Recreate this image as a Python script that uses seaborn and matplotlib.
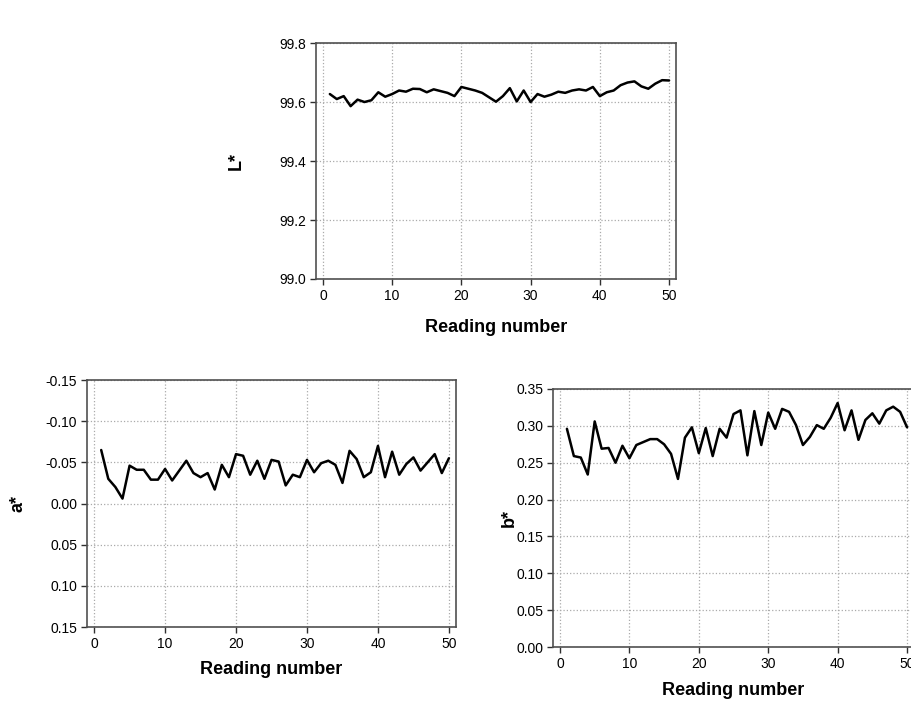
import matplotlib
matplotlib.use("Agg")
import matplotlib.pyplot as plt
from matplotlib.ticker import FormatStrFormatter, MultipleLocator
import seaborn as sns
import pandas as pd

reading = list(range(1, 51))

L_star = [99.627, 99.610, 99.620, 99.586, 99.608, 99.600, 99.606, 99.633, 99.618, 99.627,
          99.639, 99.635, 99.645, 99.644, 99.633, 99.643, 99.637, 99.631, 99.620, 99.651,
          99.645, 99.639, 99.631, 99.616, 99.601, 99.620, 99.647, 99.602, 99.639, 99.600,
          99.627, 99.618, 99.625, 99.635, 99.631, 99.639, 99.643, 99.639, 99.651, 99.620,
          99.633, 99.639, 99.657, 99.666, 99.670, 99.653, 99.645, 99.662, 99.674, 99.673]

a_star = [-0.065, -0.030, -0.020, -0.006, -0.046, -0.041, -0.041, -0.029, -0.029, -0.042,
          -0.028, -0.040, -0.052, -0.037, -0.032, -0.037, -0.017, -0.047, -0.032, -0.060,
          -0.058, -0.035, -0.052, -0.030, -0.053, -0.051, -0.022, -0.035, -0.032, -0.053,
          -0.038, -0.049, -0.052, -0.047, -0.025, -0.064, -0.054, -0.032, -0.038, -0.070,
          -0.032, -0.063, -0.035, -0.048, -0.056, -0.040, -0.050, -0.060, -0.037, -0.055]

b_star = [0.296, 0.259, 0.257, 0.234, 0.306, 0.269, 0.270, 0.250, 0.273, 0.256,
          0.274, 0.278, 0.282, 0.282, 0.275, 0.262, 0.228, 0.284, 0.298, 0.263,
          0.297, 0.259, 0.296, 0.284, 0.316, 0.321, 0.260, 0.320, 0.274, 0.318,
          0.296, 0.323, 0.319, 0.301, 0.274, 0.285, 0.301, 0.296, 0.311, 0.331,
          0.294, 0.321, 0.281, 0.308, 0.317, 0.303, 0.321, 0.326, 0.319, 0.298]

df = pd.DataFrame({"Reading": reading, "L*": L_star, "a*": a_star, "b*": b_star})

sns.set_style("white")
plt.rcParams["font.family"] = ["Liberation Sans", "DejaVu Sans"]
plt.rcParams["text.color"] = "black"
plt.rcParams["axes.labelcolor"] = "black"
plt.rcParams["xtick.color"] = "black"
plt.rcParams["ytick.color"] = "black"

fig = plt.figure(figsize=(9.12, 7.11), dpi=100)

# axes positions in figure fraction: left, bottom, width, height
ax_L = fig.add_axes([0.3465, 0.6076, 0.3947, 0.3319])
ax_a = fig.add_axes([0.0954, 0.1181, 0.4046, 0.3474])
ax_b = fig.add_axes([0.6064, 0.0900, 0.3958, 0.3629])

panels = [
    (ax_L, "L*", (99.0, 99.8), 0.2, "%.1f", (-0.197, -0.17)),
    (ax_a, "a*", (0.15, -0.15), 0.05, "%.2f", (-0.165, -0.138)),
    (ax_b, "b*", (0.0, 0.35), 0.05, "%.2f", (-0.097, -0.136)),
]

for ax, col, ylim, step, fmt, (ylab_x, xlab_y) in panels:
    sns.lineplot(data=df, x="Reading", y=col, ax=ax, color="black", linewidth=1.8)
    ax.set_xlim(-1, 51)
    ax.set_ylim(*ylim)
    ax.xaxis.set_major_locator(MultipleLocator(10))
    ax.yaxis.set_major_locator(MultipleLocator(step))
    ax.yaxis.set_major_formatter(FormatStrFormatter(fmt))
    ax.grid(True, linestyle=":", color="#aaaaaa", linewidth=0.9)
    for s in ax.spines.values():
        s.set_color("#505050")
        s.set_linewidth(1.2)
    ax.tick_params(axis="both", direction="out", length=4, width=1, color="#303030",
                   labelsize=10, pad=3, left=True, bottom=True)
    ax.set_xlabel("Reading number", fontsize=13, fontweight="bold")
    ax.set_ylabel(col, fontsize=13, fontweight="bold")
    ax.yaxis.set_label_coords(ylab_x, 0.5)
    ax.xaxis.set_label_coords(0.5, xlab_y)

fig.savefig("out.png", dpi=100)
